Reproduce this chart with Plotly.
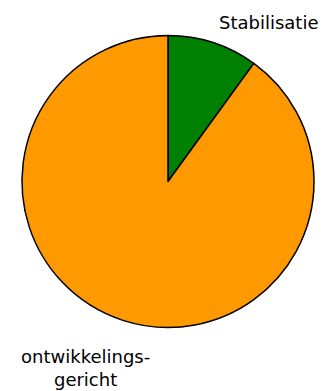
import plotly.graph_objects as go

# slice labels and shares (percent)
labels = ["Stabilisatie", "ontwikkelings-<br>gericht"]
values = [10, 90]
colors = ["#008000", "#FF9900"]

# page body has an 8px margin, so the figure is drawn 8px smaller
OFF = 8
W, H = 326 - OFF, 391 - OFF


def px(x):
    return (x - OFF) / W


def py(y):
    return 1 - (y - OFF) / H


fig = go.Figure(go.Pie(
    labels=labels,
    values=values,
    sort=False,
    direction="clockwise",
    rotation=0,
    textinfo="none",
    hoverinfo="label+percent",
    marker=dict(colors=colors, line=dict(color="black", width=1.5)),
    domain=dict(x=[px(22), px(314)], y=[py(328), py(35)]),
    showlegend=False,
))

# outside labels
fig.add_annotation(x=px(268), y=py(23), xref="paper", yref="paper",
                   xanchor="center", yanchor="middle",
                   text=labels[0], showarrow=False)
fig.add_annotation(x=px(85), y=py(368), xref="paper", yref="paper",
                   xanchor="center", yanchor="middle",
                   text=labels[1], showarrow=False)

fig.update_layout(
    width=W, height=H,
    margin=dict(l=0, r=0, t=0, b=0),
    paper_bgcolor="white",
    plot_bgcolor="white",
    font=dict(family="DejaVu Sans", size=18, color="black"),
)

fig.write_html("out.html")
